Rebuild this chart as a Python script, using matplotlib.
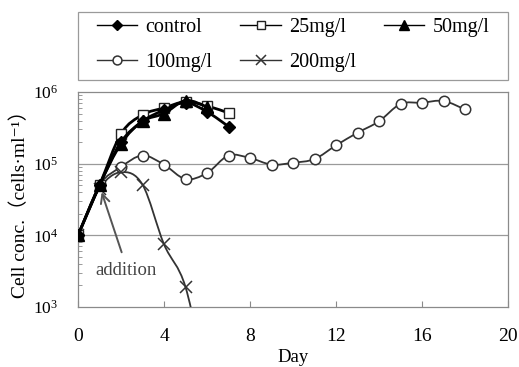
import numpy as np
import matplotlib
matplotlib.use("Agg")
import matplotlib.pyplot as plt
from matplotlib.path import Path
from matplotlib.patches import PathPatch, Rectangle
from matplotlib.lines import Line2D
from matplotlib.ticker import LogFormatterMathtext, FixedLocator, LogLocator, NullFormatter

plt.rcParams['font.family'] = ['Liberation Serif', 'Noto Sans CJK JP', 'DejaVu Serif']
plt.rcParams['mathtext.fontset'] = 'stix'

# ---- data ----
days_control = [0, 1, 2, 3, 4, 5, 6, 7]
control = [1.0e4, 5.0e4, 2.0e5, 3.9e5, 5.6e5, 7.1e5, 5.3e5, 3.3e5]

days_25 = [0, 1, 2, 3, 4, 5, 6, 7]
mg25 = [1.0e4, 5.0e4, 2.6e5, 4.8e5, 6.0e5, 7.3e5, 6.4e5, 5.1e5]

days_50 = [0, 1, 2, 3, 4, 5, 6]
mg50 = [1.0e4, 5.0e4, 1.9e5, 3.9e5, 5.0e5, 7.6e5, 6.2e5]

days_100 = [0, 1, 2, 3, 4, 5, 6, 7, 8, 9, 10, 11, 12, 13, 14, 15, 16, 17, 18]
mg100 = [1.0e4, 5.0e4, 9.0e4, 1.3e5, 9.7e4, 6.1e4, 7.4e4, 1.3e5, 1.2e5, 9.7e4,
         1.03e5, 1.16e5, 1.8e5, 2.7e5, 3.9e5, 6.8e5, 7.1e5, 7.5e5, 5.7e5]

days_200 = [0, 1, 2, 3, 4, 5, 6]
mg200 = [1.0e4, 4.5e4, 7.6e4, 5.1e4, 7.5e3, 1.9e3, 8.0e1]

labels = ["control", "25mg/l", "50mg/l", "100mg/l", "200mg/l"]
x_ticks = [0, 4, 8, 12, 16, 20]


def smooth_path(xs, ys):
    """Catmull-Rom style smoothing (like Excel smoothed lines) in log space."""
    xs = np.asarray(xs, float)
    ly = np.log10(np.asarray(ys, float))
    P = np.column_stack([xs, ly])
    n = len(P)
    verts = [P[0]]
    codes = [Path.MOVETO]
    for i in range(n - 1):
        p0 = P[i - 1] if i > 0 else P[i]
        p1 = P[i]
        p2 = P[i + 1]
        p3 = P[i + 2] if i + 2 < n else P[i + 1]
        c1 = p1 + (p2 - p0) / 6.0
        c2 = p2 - (p3 - p1) / 6.0
        verts += [c1, c2, p2]
        codes += [Path.CURVE4] * 3
    v = np.array(verts)
    v[:, 1] = 10 ** v[:, 1]
    return Path(v, codes)


W, H = 519, 367
fig = plt.figure(figsize=(W / 100, H / 100), dpi=100)
ax = fig.add_axes([78 / W, 1 - 307 / H, 430 / W, 215 / H])
ax.set_yscale('log')
ax.set_xlim(0, 20)
ax.set_ylim(1e3, 1e6)

series = [
    (days_control, control, dict(marker='D', ms=6.5, mfc='black', mec='black'), 'black', 2.0),
    (days_25, mg25, dict(marker='s', ms=7, mfc='white', mec='#222222'), 'black', 2.0),
    (days_50, mg50, dict(marker='^', ms=8, mfc='black', mec='black'), 'black', 2.0),
    (days_100, mg100, dict(marker='o', ms=7.5, mfc='white', mec='#333333', mew=1.1), '#333333', 1.3),
    (days_200, mg200, dict(marker='x', ms=8.5, mec='#333333', mew=1.1), '#333333', 1.3),
]

handles = []
zo = [5, 4, 4.5, 3, 3]
for (xs, ys, mk, col, lw), lab, z in zip(series, labels, zo):
    patch = PathPatch(smooth_path(xs, ys), fill=False, edgecolor=col, lw=lw, zorder=z)
    ax.add_patch(patch)
    ax.plot(xs, ys, ls='none', zorder=z + 0.1, **mk)
    hk = dict(mk)
    hk['ms'] = mk['ms'] * 0.85
    handles.append(Line2D([], [], color=col, lw=1.0, **hk))

# grid and spines
for v in [1e4, 1e5]:
    ax.axhline(v, color='#9a9a9a', lw=0.9, zorder=1)
for s in ax.spines.values():
    s.set_color('#8a8a8a')
    s.set_linewidth(0.9)

ax.xaxis.set_major_locator(FixedLocator(x_ticks))
ax.set_xticklabels([str(t) for t in x_ticks])
ax.tick_params(axis='x', direction='in', length=4, color='#8a8a8a', labelsize=14, pad=15)

ax.yaxis.set_major_locator(FixedLocator([1e3, 1e4, 1e5, 1e6]))
ax.yaxis.set_major_formatter(LogFormatterMathtext())
ax.yaxis.set_minor_locator(LogLocator(base=10, subs=np.arange(2, 10)))
ax.yaxis.set_minor_formatter(NullFormatter())
ax.tick_params(axis='y', which='major', length=0, labelsize=12.5, pad=14)
ax.tick_params(axis='y', which='minor', direction='in', length=3, color='#8a8a8a')

ax.set_xlabel('Day', fontsize=13.5, labelpad=3)
ax.set_ylabel('Cell conc.（cells·ml⁻¹）', fontsize=14, labelpad=3)

# annotation
ax.annotate('', xy=(1.1, 4.0e4), xytext=(2.03, 5.8e3),
            arrowprops=dict(arrowstyle='->', color='#555555', lw=1.4,
                            mutation_scale=16, shrinkA=0, shrinkB=0), zorder=6)
ax.text(2.23, 3.2e3, 'addition', fontsize=13.5, color='#444444', ha='center', va='center')

# legend frame (drawn as a rectangle) and legend (row-major order)
fig.patches.append(Rectangle((78 / W, 1 - 80 / H), 430 / W, 68 / H,
                             transform=fig.transFigure, fill=False,
                             edgecolor='#9a9a9a', lw=0.9))
order = [0, 3, 1, 4, 2]
leg = fig.legend([handles[i] for i in order], [labels[i] for i in order],
                 ncol=3, loc='center',
                 bbox_to_anchor=(293 / W, 1 - 45 / H),
                 bbox_transform=fig.transFigure, frameon=False,
                 fontsize=14.5, handlelength=2.0,
                 handletextpad=0.4, columnspacing=1.4, borderaxespad=0,
                 borderpad=0, labelspacing=0.8)

fig.savefig('out.png', dpi=100)
